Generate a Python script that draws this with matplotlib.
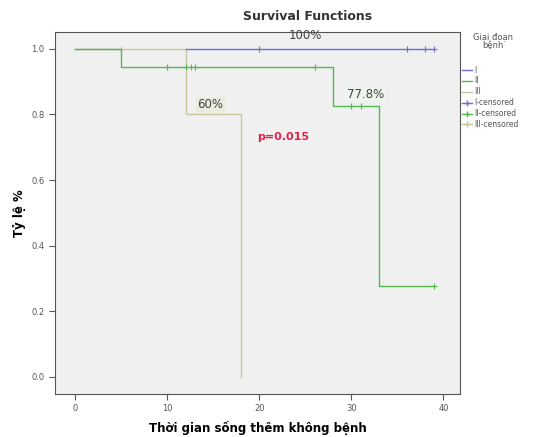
import matplotlib
matplotlib.use("Agg")
from matplotlib import pyplot as plt
from matplotlib.lines import Line2D

# step curves (time, survival)
t_1 = [12, 39]
s_1 = [1.0, 1.0]
cens_t_1 = [20, 36, 38, 39]

t_2 = [0, 5, 28, 33, 39]
s_2 = [1.0, 0.945, 0.826, 0.277, 0.277]
cens_t_2 = [10, 12, 12.6, 13, 26, 30, 31, 39]

t_3 = [0, 12, 18]
s_3 = [1.0, 0.8, 0.0]
cens_t_3 = [5]

groups = ["I", "II", "III"]
colors = ["#7070d0", "#52b852", "#c8c4a0"]


def surv_at(ts, ss, x):
    v = ss[0]
    for t, s in zip(ts, ss):
        if x >= t:
            v = s
    return v


def main():
    fig = plt.figure(figsize=(5.45, 4.37), dpi=100)
    ax = fig.add_axes([0.101, 0.099, 0.743, 0.828])
    ax.set_facecolor("#f0f0f0")

    curves = [(t_1, s_1, cens_t_1), (t_2, s_2, cens_t_2), (t_3, s_3, cens_t_3)]
    # draw III first so others lie on top
    for i in [2, 1, 0]:
        ts, ss, cs = curves[i]
        ax.step(ts, ss, where="post", color=colors[i], linewidth=1.0)
        cy = [surv_at(ts, ss, c) for c in cs]
        ax.plot(cs, cy, "+", color=colors[i], markersize=5, markeredgewidth=0.8)

    ax.text(25, 1.02, "100%", fontsize=8.5, color="#444444", ha="center", va="bottom")
    ax.text(31.5, 0.84, "77.8%", fontsize=8.5, color="#444444", ha="center", va="bottom",
            bbox=dict(facecolor="#eef5ee", edgecolor="none", pad=1))
    ax.text(14.7, 0.81, "60%", fontsize=8.5, color="#444444", ha="center", va="bottom",
            bbox=dict(facecolor="#ebebdf", edgecolor="none", pad=1))
    ax.text(22.6, 0.73, "p=0.015", fontsize=8, color="#e0204a", fontweight="bold",
            ha="center", va="center")

    ax.set_xlim(-2.2, 41.8)
    ax.set_ylim(-0.052, 1.052)
    ax.set_xticks([0, 10, 20, 30, 40])
    ax.set_yticks([0.0, 0.2, 0.4, 0.6, 0.8, 1.0])
    ax.set_yticklabels(["0.0", "0.2", "0.4", "0.6", "0.8", "1.0"])
    ax.tick_params(labelsize=6, colors="#555555", length=4)
    for sp in ax.spines.values():
        sp.set_color("#555555")

    ax.set_xlabel("Thời gian sống thêm không bệnh", fontsize=8.5, fontweight="bold", labelpad=6)
    ax.set_ylabel("Tỷ lệ %", fontsize=8.5, fontweight="bold", labelpad=4)
    fig.text(0.565, 0.963, "Survival Functions", fontsize=9, fontweight="bold",
             ha="center", va="center", color="#333333")

    handles = []
    labels = []
    for g, c in zip(groups, colors):
        handles.append(Line2D([], [], color=c, linewidth=1.0))
        labels.append(g)
    for g, c in zip(groups, colors):
        handles.append(Line2D([], [], color=c, linewidth=1.0, marker="+", markersize=5))
        labels.append(g + "-censored")
    fig.text(0.905, 0.905, "Giai đoạn\nbệnh", fontsize=6, color="#555555",
             ha="center", va="center", linespacing=1.0)
    leg = fig.legend(handles, labels, loc="upper left",
                     bbox_to_anchor=(0.848, 0.85), frameon=False, fontsize=5.5,
                     handlelength=1.3, labelspacing=0.25,
                     handletextpad=0.3, borderaxespad=0, borderpad=0)
    for t in leg.get_texts():
        t.set_color("#555555")

    fig.savefig("out.png", dpi=100)


if __name__ == "__main__":
    main()
